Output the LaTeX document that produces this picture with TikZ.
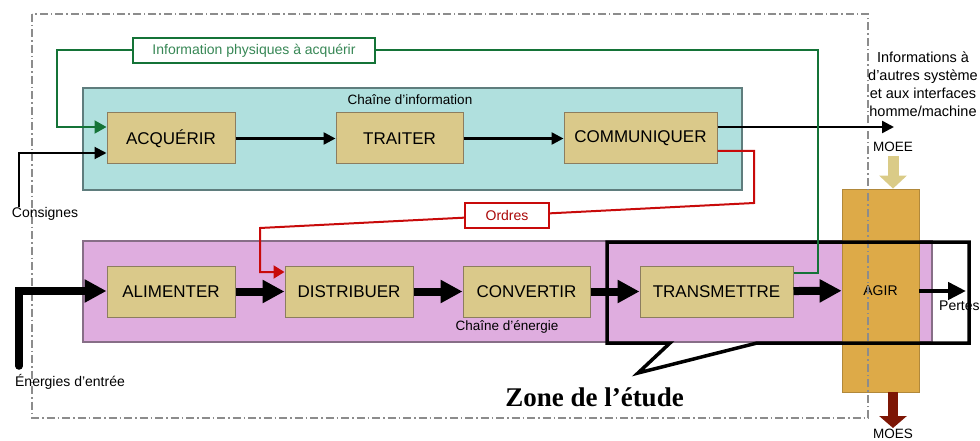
\documentclass[tikz,border=0pt]{standalone}
\usepackage{fontspec}
\setmainfont{Liberation Sans}
\newfontfamily\serifzone{Liberation Serif}
\usetikzlibrary{arrows.meta, calc}
\tikzset{
  every node/.style={font=\fontsize{14}{18}\selectfont, inner sep=0pt},
  fonction/.style={draw=boxline, fill=boxcol, line width=1pt, minimum height=51pt,
    font=\fontsize{17}{20}\selectfont},
  flecheinfo/.style={-{Triangle[length=12pt,width=12pt]}, line width=2.5pt},
  flecheenergie/.style={-{Triangle[length=22pt,width=22pt]}, line width=8pt},
  lienvert/.style={draw=vertcol, line width=2pt},
  lienrouge/.style={draw=rougecol, line width=2pt},
  etiquette/.style={fill=white, line width=2pt, minimum height=25pt}
}

\begin{document}
\begin{tikzpicture}[x=1pt, y=-1pt, >=Stealth]
  % Fixed bounding box (pixels of the original).
  \path[use as bounding box] (0,0) rectangle (980,441);

  % Colors.
  \definecolor{infocol}{RGB}{176,224,222}
  \definecolor{infoline}{RGB}{95,125,125}
  \definecolor{energcol}{RGB}{223,173,223}
  \definecolor{energline}{RGB}{135,110,135}
  \definecolor{boxcol}{RGB}{218,201,138}
  \definecolor{boxline}{RGB}{140,125,95}
  \definecolor{agircol}{RGB}{221,170,72}
  \definecolor{moeecol}{RGB}{218,203,135}
  \definecolor{moescol}{RGB}{125,22,5}
  \definecolor{vertcol}{RGB}{20,115,55}
  \definecolor{verttext}{RGB}{55,135,85}
  \definecolor{rougecol}{RGB}{200,10,10}
  \colorlet{cadrecol}{black!45}

  % Chains (background boxes).
  \draw[fill=infocol, draw=infoline, line width=1.2pt] (83,88) rectangle (742,190);
  \draw[fill=energcol, draw=energline, line width=1.2pt] (83,241) rectangle (932,342);
  \node[font=\fontsize{13.5}{16}\selectfont] (chinfo) at (410,100) {Chaîne d'information};
  \node[font=\fontsize{13.5}{16}\selectfont] (chenergie) at (507,327) {Chaîne d'énergie};

  % Functions.
  \node[fonction, minimum width=128pt] (acq) at (171,138.5) {ACQUÉRIR};
  \node[fonction, minimum width=127pt] (tra) at (399.5,138.5) {TRAITER};
  \node[fonction, minimum width=153pt] (com) at (640.5,138.5) {COMMUNIQUER};
  \node[fonction, minimum width=128pt] (ali) at (171,291.5) {ALIMENTER};
  \node[fonction, minimum width=128pt] (dis) at (349,291.5) {DISTRIBUER};
  \node[fonction, minimum width=127pt] (con) at (526.5,291.5) {CONVERTIR};
  \node[fonction, minimum width=153pt] (tsm) at (716.5,291.5) {TRANSMETTRE};
  \node[fill=agircol, draw=agircol!80!black, line width=0.8pt, minimum width=77pt,
    minimum height=203pt] (agir) at (880.5,290.5) {AGIR};

  % System frame (dash-dot).
  \draw[cadrecol, line width=1.3pt, dash pattern=on 8pt off 3pt on 1.5pt off 3pt]
    (32,14) rectangle (868,418);

  % Zone of the study, with its tail.
  \draw[line width=3.5pt, line join=miter] (607,242) -- (969,242) -- (969,343) -- (757,343)
    -- (638,373) -- (670,343) -- (607,343) -- cycle;
  \node[font=\serifzone\bfseries\fontsize{27}{30}\selectfont] (zone) at (594.5,397) {Zone de l’étude};

  % Information chain.
  \coordinate (sortie) at (894,127);
  \draw[flecheinfo] (acq) -- (tra);
  \draw[flecheinfo] (tra) -- (com);
  \draw[flecheinfo] (sortie -| com.east) -- (sortie);
  \node[align=center, font=\fontsize{14.5}{18}\selectfont] (autres) at (923,84)
    {Informations à\\d'autres système\\et aux interfaces\\homme/machine};

  % Consignes.
  \node (consignes) at (45,214) {Consignes};
  \coordinate (cB) at (19,153);
  \draw[flecheinfo, line width=2pt] (consignes.north -| cB) -- (cB) -- (cB -| acq.west);

  % Physical information (green loop).
  \node[etiquette, draw=vertcol, text=verttext, minimum width=242pt] (physique) at (254,50.5)
    {Information physiques à acquérir};
  \coordinate (gA) at (818,50.5);
  \coordinate (gB) at (57,127);
  \coordinate (gC) at (818,273);
  \draw[lienvert] (gC -| tsm.east) -- (gC) -- (gA) -- (physique);
  \draw[lienvert, -{Triangle[length=12pt,width=13pt]}] (physique) -- (gA -| gB) -- (gB)
    -- (gB -| acq.west);

  % Orders (red link).
  \coordinate (ordC) at (754,151);
  \coordinate (ordA) at (754,203);
  \coordinate (ordB) at (260,228);
  \coordinate (ordD) at (260,272);
  \node[etiquette, draw=rougecol, text=rougecol!85!black, minimum width=84pt] (ordres)
    at ($(ordA)!0.5!(ordB)$) {Ordres};
  \draw[lienrouge] (ordC -| com.east) -- (ordC) -- (ordA) -- (ordres);
  \draw[lienrouge, -{Triangle[length=11pt,width=13pt]}] (ordres) -- (ordB) -- (ordD)
    -- (ordD -| dis.west);

  % Energy chain.
  \node (energies) at (70,382) {Énergies d'entrée};
  \coordinate (eA) at (19,366);
  \coordinate (eB) at (19,291);
  \draw[flecheenergie, line width=7.5pt, line cap=round] (eA) -- (eB) -- (eB -| ali.west);
  \draw[flecheenergie] (ali) -- (dis);
  \draw[flecheenergie] (dis) -- (con);
  \draw[flecheenergie] (con) -- (tsm);
  \draw[flecheenergie] (tsm) -- (agir);

  % Inputs and outputs of AGIR.
  \node[font=\fontsize{13.5}{16}\selectfont] (moee) at (893,147) {MOEE};
  \draw[moeecol, line width=11pt, -{Triangle[length=13pt,width=27pt]}]
    ($(moee.south)+(0,4)$) -- (agir.north -| moee);
  \node[font=\fontsize{13.5}{16}\selectfont] (moes) at (893,434) {MOES};
  \draw[moescol, line width=10pt, -{Triangle[length=12pt,width=27pt]}]
    (agir.south -| moes) -- ($(moes.north)+(0,-1)$);
  \node[anchor=west] (pertes) at (939,306) {Pertes};
  \coordinate (pA) at (966,291);
  \draw[line width=4.5pt, -{Triangle[length=18pt,width=17pt]}] (agir.east |- pA) -- (pA);
\end{tikzpicture}
\end{document}
